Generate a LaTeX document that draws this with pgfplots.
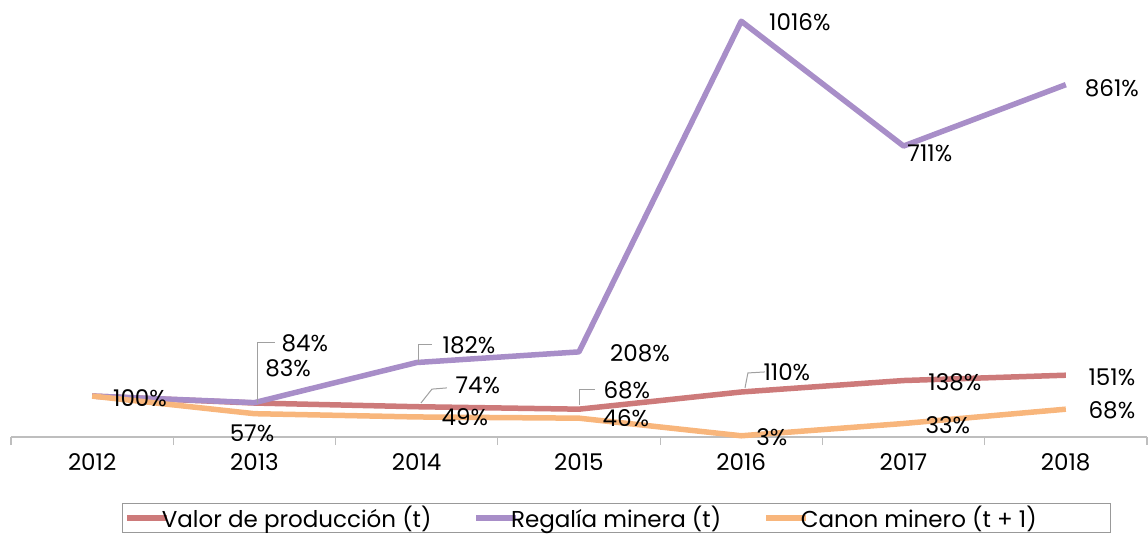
\documentclass[border=0pt]{standalone}
\usepackage{pgfplots}
\pgfplotsset{compat=1.18}
\usepackage{fontspec}
\setmainfont{Poppins}
\definecolor{cRed}{RGB}{205,122,122}
\definecolor{cPur}{RGB}{168,142,200}
\definecolor{cOra}{RGB}{248,182,124}
\definecolor{cAx}{RGB}{190,190,190}
\definecolor{cLead}{RGB}{160,160,160}
\begin{document}
\begin{tikzpicture}[font=\fontsize{23}{27}\selectfont]
\path[use as bounding box] (0,0) rectangle (1148pt,536pt);
\begin{axis}[
  at={(11pt,99pt)}, anchor=south west,
  scale only axis, width=1136pt, height=426pt,
  xmin=2011.5, xmax=2018.5, ymin=0, ymax=1041,
  axis x line=bottom, axis y line=none,
  x axis line style={draw=cAx, line width=1.5pt, -},
  xtick={2012,...,2018},
  xticklabels={2012,2013,2014,2015,2016,2017,2018},
  major tick length=0pt,
  minor xtick={2011.5,2012.5,...,2018.5},
  minor tick length=8pt,
  tick align=outside,
  minor tick style={draw=cAx, line width=1.2pt},
  xticklabel style={yshift=-13pt},
  clip=false,
  legend columns=3,
  legend style={at={(rel axis cs:0.0977,-0.155)}, anchor=north west,
    draw=gray!80, line width=0.8pt, inner xsep=2pt, inner ysep=1pt,
    /tikz/every even column/.append style={column sep=40pt}},
  legend cell align=left,
  legend image code/.code={\draw[#1, line width=5.5pt] (0pt,0pt) -- (30pt,0pt);
     \draw[#1, line width=5.5pt, overlay] (29pt,0pt) -- (40pt,0pt);},
]
\addplot[cRed, line width=5.5pt, line join=round] coordinates {(2012,100)(2013,83)(2014,74)(2015,68)(2016,110)(2017,138)(2018,151)};
\addlegendentry{Valor de producción (t)}
\addplot[cPur, line width=5.5pt, line join=round] coordinates {(2012,100)(2013,84)(2014,182)(2015,208)(2016,1016)(2017,711)(2018,861)};
\addlegendentry{Regalía minera (t)}
\addplot[cOra, line width=5.5pt, line join=round] coordinates {(2012,100)(2013,57)(2014,49)(2015,46)(2016,3)(2017,33)(2018,68)};
\addlegendentry{Canon minero (t + 1)\rule{70pt}{0pt}}

% leader lines
\draw[cLead, line width=1pt] (axis cs:2013.022,83) -- (axis cs:2013.022,230) -- (axis cs:2013.127,230);
\draw[cLead, line width=1pt] (axis cs:2014.008,183) -- (axis cs:2014.008,225) -- (axis cs:2014.094,225);
\draw[cLead, line width=1pt] (axis cs:2014.026,83) -- (axis cs:2014.094,117) -- (axis cs:2014.186,120);
\draw[cLead, line width=1pt] (axis cs:2015.006,78) -- (axis cs:2015.006,115) -- (axis cs:2015.098,115);
\draw[cLead, line width=1pt] (axis cs:2016.023,120) -- (axis cs:2016.041,156.5) -- (axis cs:2016.146,159);

% data labels
\node at (axis cs:2012.295,95.4) {100\%};
\node at (axis cs:2013.311,229.8) {84\%};
\node at (axis cs:2013.207,168.7) {83\%};
\node at (axis cs:2012.985,9.8) {57\%};
\node at (axis cs:2014.322,225) {182\%};
\node at (axis cs:2014.377,127) {74\%};
\node at (axis cs:2014.297,49) {49\%};
\node at (axis cs:2015.376,205) {208\%};
\node at (axis cs:2015.295,115) {68\%};
\node at (axis cs:2015.289,46.5) {46\%};
\node at (axis cs:2016.361,1014.7) {1016\%};
\node at (axis cs:2016.281,159) {110\%};
\node at (axis cs:2016.189,0) {3\%};
\node at (axis cs:2017.162,694.4) {711\%};
\node at (axis cs:2017.316,134.5) {138\%};
\node at (axis cs:2017.273,29.3) {33\%};
\node at (axis cs:2018.284,853) {861\%};
\node at (axis cs:2018.284,146.7) {151\%};
\node at (axis cs:2018.284,66) {68\%};
\end{axis}
\end{tikzpicture}
\end{document}
